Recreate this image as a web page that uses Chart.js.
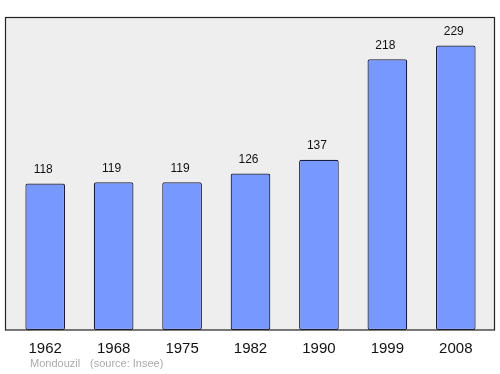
<!DOCTYPE html>
<html><head><meta charset="utf-8">
<script src="https://cdn.jsdelivr.net/npm/chart.js@4"></script>
<style>html,body{margin:0;padding:0;background:#fff}#wrap{width:500px;height:374px}</style>
</head><body><div id="wrap"><canvas id="c" width="500" height="374"></canvas></div>
<script>
const years = ["1962","1968","1975","1982","1990","1999","2008"];
const population = [118,119,119,126,137,218,229];
const place = "Mondouzil";
const source = "(source: Insee)";

const bgPlugin = {
  id:'bg',
  beforeDraw(chart){
    const ctx=chart.ctx;
    ctx.save();
    ctx.fillStyle='#eeeeee';
    ctx.fillRect(5.5,17.5,489,312.5);
    ctx.restore();
  },
  afterDatasetsDraw(chart){
    const ctx=chart.ctx;
    ctx.save();
    ctx.strokeStyle='#222222';ctx.lineWidth=1.2;
    ctx.strokeRect(5.5,17.5,489,312.5);
    const meta=chart.getDatasetMeta(0);
    ctx.fillStyle='#111';ctx.font='12px "Liberation Sans", Arial, sans-serif';
    ctx.textAlign='center';ctx.textBaseline='middle';
    meta.data.forEach((el,i)=>{ctx.fillText(String(population[i]),el.x-2,el.y-14);});
    ctx.fillStyle='#aaaaaa';ctx.font='11px "Liberation Sans", Arial, sans-serif';
    ctx.textAlign='left';
    ctx.fillText(place,30,364);
    ctx.fillText(source,90,364);
    ctx.restore();
  }
};

new Chart(document.getElementById('c'),{
  type:'bar',
  data:{labels:years,datasets:[{data:population,backgroundColor:'#7799ff',borderColor:'#1c1c40',borderWidth:1.2,borderRadius:2,borderSkipped:false,barPercentage:0.58,categoryPercentage:1}]},
  options:{
    responsive:false,animation:false,
    layout:{padding:{left:11,right:10,top:17,bottom:0}},
    plugins:{legend:{display:false},tooltip:{enabled:false}},
    scales:{
      y:{display:false,min:0,max:252},
      x:{grid:{display:false,drawTicks:false},border:{display:false},
         ticks:{color:'#111',font:{family:'"Liberation Sans", Arial, sans-serif',size:15},padding:10},
         afterFit(s){s.height=44;}}
    }
  },
  plugins:[bgPlugin]
});
</script></body></html>
